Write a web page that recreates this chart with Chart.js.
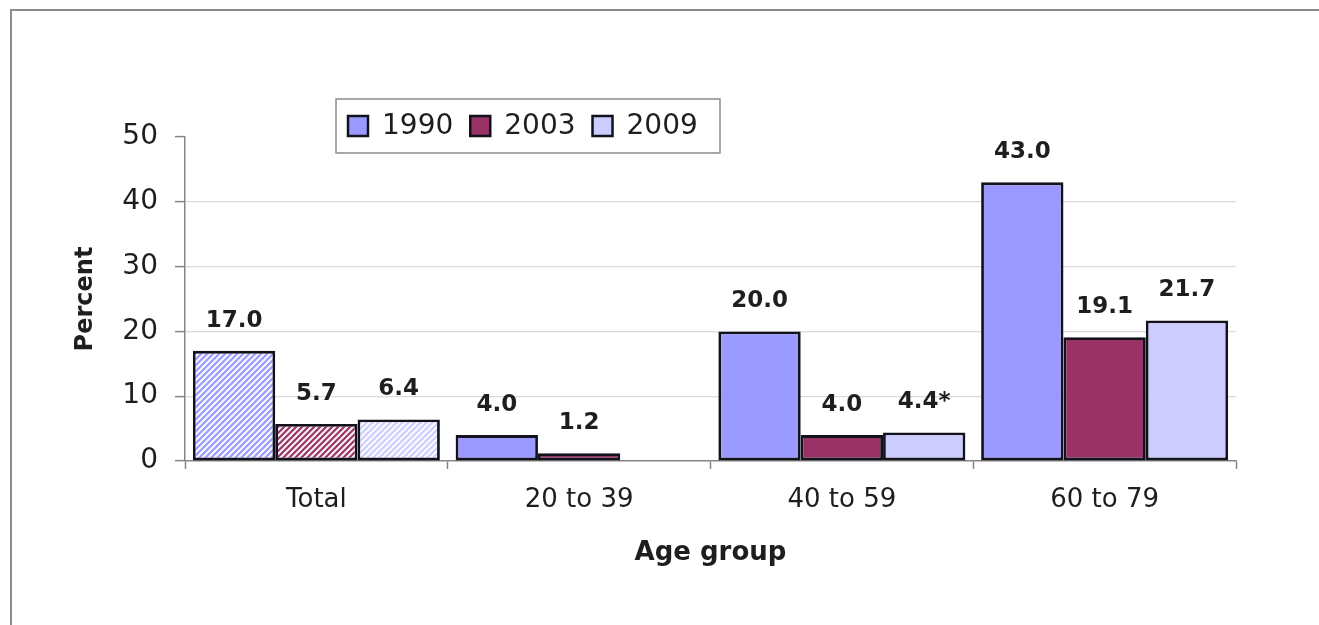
<!DOCTYPE html>
<html>
<head>
<meta charset="utf-8">
<title>Percent by age group</title>
<script src="https://cdn.jsdelivr.net/npm/chart.js@4.4.1/dist/chart.umd.min.js"></script>
<style>
  html, body { margin: 0; padding: 0; background: #fff; overflow: hidden; }
  body { width: 1319px; height: 625px; position: relative; }
  .frame {
    position: absolute; left: 10px; top: 9px; width: 1400px; height: 700px;
    border-left: 2px solid #8c8c8c; border-top: 2px solid #8c8c8c;
  }
  #chart { position: absolute; left: 0; top: 0; }
</style>
</head>
<body>
<div class="frame"></div>
<canvas id="chart" width="1319" height="625"></canvas>
<script>
const categories = ['Total', '20 to 39', '40 to 59', '60 to 79'];
const years = ['1990', '2003', '2009'];
const values1990 = [17.0, 4.0, 20.0, 43.0];
const values2003 = [5.7, 1.2, 4.0, 19.1];
const values2009 = [6.4, null, 4.4, 21.7];
const notes2009 = ['', '', '*', ''];
const yTicks = [0, 10, 20, 30, 40, 50];

const COLORS = ['#9999ff', '#993366', '#ccccff'];
const FONT = "'DejaVu Sans', 'Liberation Sans', Arial, sans-serif";
const AXIS = '#858585';

const canvas = document.getElementById('chart');
const g = canvas.getContext('2d');

// diagonal white hatching used for the "Total" group
function hatch(color) {
  const c = document.createElement('canvas');
  c.width = c.height = 6;
  const h = c.getContext('2d');
  h.fillStyle = color;
  h.fillRect(0, 0, 6, 6);
  h.strokeStyle = 'rgba(255,255,255,0.92)';
  h.lineWidth = 2.2;
  h.beginPath();
  h.moveTo(0, 6); h.lineTo(6, 0);
  h.moveTo(-1, 1); h.lineTo(1, -1);
  h.moveTo(5, 7); h.lineTo(7, 5);
  h.stroke();
  return g.createPattern(c, 'repeat');
}

const series = [
  { data: values1990, notes: null },
  { data: values2003, notes: null },
  { data: values2009, notes: notes2009 },
];

const datasets = series.map((s, i) => {
  const pat = hatch(COLORS[i]);
  return {
    label: years[i],
    data: s.data,
    notes: s.notes,
    swatch: COLORS[i],
    backgroundColor: (ctx) => (ctx.dataIndex === 0 ? pat : COLORS[i]),
    borderColor: '#12121c',
    borderWidth: 2.8,
    borderSkipped: false,
    categoryPercentage: 0.94,
    barPercentage: 1.0,
  };
});

const valueLabels = {
  id: 'valueLabels',
  afterDatasetsDraw(chart) {
    const c = chart.ctx;
    c.save();
    c.font = `bold 23px ${FONT}`;
    c.fillStyle = '#1e1e1e';
    c.textAlign = 'center';
    c.textBaseline = 'middle';
    chart.data.datasets.forEach((ds, di) => {
      chart.getDatasetMeta(di).data.forEach((bar, i) => {
        const v = ds.data[i];
        if (v === null || v === undefined) return;
        const note = ds.notes ? ds.notes[i] : '';
        c.fillText(v.toFixed(1) + note, bar.x, bar.y - 30);
      });
    });
    c.restore();
  },
};

const boxLegend = {
  id: 'boxLegend',
  afterDraw(chart) {
    const c = chart.ctx;
    const box = { x: 336, y: 99, w: 384, h: 54 };
    c.save();
    c.fillStyle = '#fff';
    c.fillRect(box.x, box.y, box.w, box.h);
    c.strokeStyle = '#8c8c8c';
    c.lineWidth = 1.5;
    c.strokeRect(box.x, box.y, box.w, box.h);
    c.font = `28px ${FONT}`;
    c.textBaseline = 'middle';
    c.textAlign = 'left';
    let x = box.x + 12;
    const cy = box.y + box.h / 2;
    chart.data.datasets.forEach((ds) => {
      c.fillStyle = ds.swatch;
      c.fillRect(x, cy - 10, 20, 20);
      c.strokeStyle = '#12121c';
      c.lineWidth = 2.5;
      c.strokeRect(x, cy - 10, 20, 20);
      x += 20 + 14;
      c.fillStyle = '#1e1e1e';
      c.fillText(ds.label, x, cy + 1);
      x += c.measureText(ds.label).width + 17;
    });
    c.restore();
  },
};

new Chart(canvas, {
  type: 'bar',
  data: { labels: categories, datasets },
  plugins: [valueLabels, boxLegend],
  options: {
    responsive: false,
    animation: false,
    devicePixelRatio: 1,
    layout: { padding: { left: 71, right: 83, top: 137, bottom: 56 } },
    plugins: {
      legend: { display: false },
      tooltip: { enabled: false },
    },
    scales: {
      x: {
        offset: true,
        border: { display: true, color: AXIS, width: 1.5 },
        grid: {
          offset: true,
          drawOnChartArea: false,
          drawTicks: true,
          tickLength: 8,
          tickColor: AXIS,
          tickWidth: 1.5,
        },
        ticks: { color: '#1e1e1e', font: { family: FONT, size: 26 }, padding: 16, maxRotation: 0 },
        title: {
          display: true,
          text: 'Age group',
          color: '#1e1e1e',
          font: { family: FONT, size: 26, weight: 'bold' },
          padding: { top: 0, bottom: 0 },
        },
        afterFit: (axis) => { axis.height = 108; },
      },
      y: {
        min: yTicks[0],
        max: yTicks[yTicks.length - 1],
        afterBuildTicks: (axis) => { axis.ticks = yTicks.map((v) => ({ value: v })); },
        border: { display: true, color: AXIS, width: 1.5 },
        grid: {
          color: (ctx) => (ctx.tick && ctx.tick.value > 0 && ctx.tick.value < 50 ? '#dadada' : 'rgba(0,0,0,0)'),
          lineWidth: 1.2,
          drawTicks: true,
          tickLength: 10,
          tickColor: AXIS,
          tickWidth: 1.5,
        },
        ticks: { color: '#1e1e1e', font: { family: FONT, size: 28 }, padding: 17 },
        title: {
          display: true,
          text: 'Percent',
          color: '#1e1e1e',
          font: { family: FONT, size: 24, weight: 'bold' },
          padding: { top: 0, bottom: 0 },
        },
        afterFit: (axis) => { axis.width = 114; },
      },
    },
  },
});
</script>
</body>
</html>
